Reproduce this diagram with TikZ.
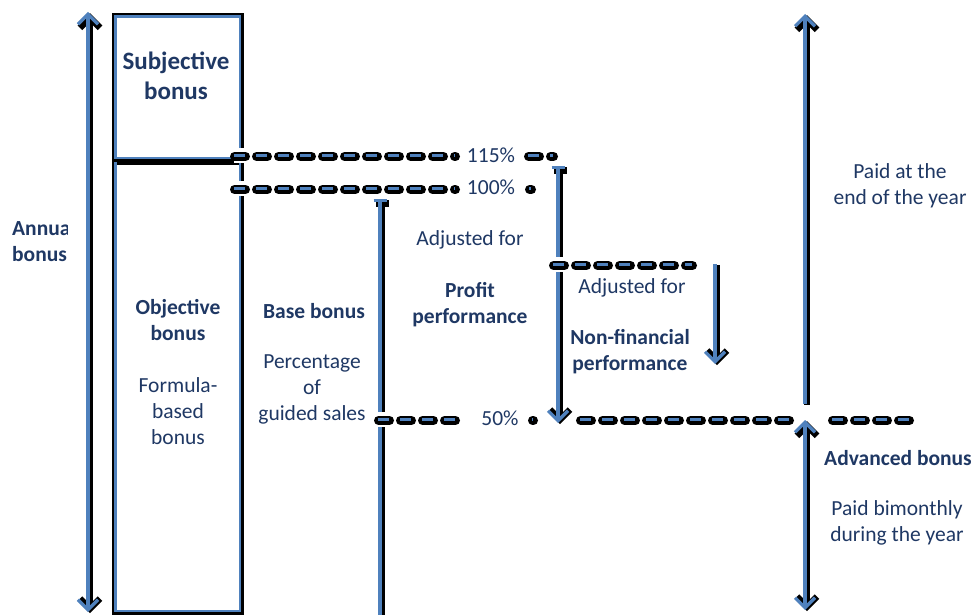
\documentclass[tikz,border=0pt]{standalone}
\usepackage{fontspec}
\setmainfont{Carlito}
\usetikzlibrary{arrows.meta}
\definecolor{inkblue}{RGB}{31,56,100}
\definecolor{lineblue}{RGB}{79,129,189}

% a blue stroke with a black shadow slightly to the lower right
\newcommand\twotone[2][]{%
  \begin{scope}[transform canvas={shift={(2,1.2)}}]
    \draw[shadeline,#1] #2;
  \end{scope}
  \draw[blueline,#1] #2;}
% a dashed blue stroke in rounded black dashes, cut out of what lies below
\newcommand\dashtwotone[1]{%
  \draw[white,line width=15pt] #1;
  \begin{scope}[transform canvas={shift={(0.5,1.5)}}]
    \draw[dashshade] #1;
  \end{scope}
  \draw[dashblue] #1;}

\tikzset{
  shadeline/.style={draw=black,line width=6.5pt},
  blueline/.style={draw=lineblue,line width=3.2pt},
  dashshade/.style={draw=black,line width=9pt,line cap=round,dash pattern=on 11pt off 11pt},
  dashblue/.style={draw=lineblue,line width=3pt,dash pattern=on 11pt off 11pt},
  bothheads/.style={arrows={Straight Barb[length=10pt,width=20pt]-Straight Barb[length=10pt,width=20pt]}},
  headup/.style={arrows={Straight Barb[length=10pt,width=20pt]-}},
  headdown/.style={arrows={-Straight Barb[length=10pt,width=20pt]}},
  teedown/.style={arrows={Bar[width=13pt]-Straight Barb[length=10pt,width=20pt]}},
  teeonly/.style={arrows={Bar[width=13pt]-}},
  lbl/.style={text=inkblue,font=\fontsize{21.5}{26}\selectfont,align=center,inner sep=0pt},
  blbl/.style={lbl,font=\bfseries\fontsize{21.5}{26}\selectfont},
  biglbl/.style={lbl,font=\bfseries\fontsize{25}{30}\selectfont},
  frame/.style={draw=black,line width=4.5pt,anchor=north west,inner sep=0pt,minimum width=127pt}
}

\begin{document}
\begin{tikzpicture}[x=1pt,y=-1pt]
\useasboundingbox[fill=white] (0,0) rectangle (976,615);

% end points of the arrows
\coordinate (annT) at (88,12);
\coordinate (annB) at (88,612);
\coordinate (endT) at (805,14);
\coordinate (endB) at (805,404);
\coordinate (advT) at (805,420);
\coordinate (advB) at (805,610);
\coordinate (baseT) at (380,199);
\coordinate (baseB) at (380,618);
\coordinate (profT) at (558,166);
\coordinate (profB) at (558,423);
\coordinate (nfT) at (715,264);
\coordinate (nfB) at (715,364);

% the two bonus boxes
\node[frame,minimum height=144pt] (subj) at (112,13) {};
\draw[blueline,line width=2.6pt] ([shift={(3.4,3.4)}]subj.north west) rectangle ([shift={(-3.4,-3.4)}]subj.south east);
\node[frame,minimum height=450pt] (obj) at (112,160) {};
\draw[blueline,line width=2.6pt] ([shift={(3.4,2)}]obj.north west) -- ([shift={(3.4,-3.4)}]obj.south west)
  -- ([shift={(-3.4,-3.4)}]obj.south east) -- ([shift={(-3.4,2)}]obj.north east);

% vertical arrows
\twotone[bothheads]{(annT) -- (annB)}
\twotone[headup]{(endT) -- (endB)}
\twotone[bothheads]{(advT) -- (advB)}
\twotone[teeonly]{(baseT) -- (baseB)}
\twotone[teedown]{(profT) -- (profB)}
\twotone[headdown]{(nfT) -- (nfB)}

% percentage levels
\coordinate (a1) at (234,155); \coordinate (a2) at (455,155);
\coordinate (a3) at (528,155); \coordinate (a4) at (553,155);
\coordinate (b1) at (234,188); \coordinate (b2) at (455,188);
\coordinate (b3) at (529,188); \coordinate (b4) at (531,188);
\coordinate (c1) at (553,264); \coordinate (c2) at (692,264);
\coordinate (d1) at (378,419); \coordinate (d2) at (466,419);
\coordinate (d3) at (532,419); \coordinate (d4) at (533,419);
\coordinate (d5) at (580,419); \coordinate (d6) at (796,419);
\coordinate (d7) at (832,419); \coordinate (d8) at (912,419);
\dashtwotone{(a1) -- (a2)}
\dashtwotone{(a3) -- (a4)}
\dashtwotone{(b1) -- (b2)}
\dashtwotone{(b3) -- (b4)}
\dashtwotone{(c1) -- (c2)}
\dashtwotone{(d1) -- (d2)}
\dashtwotone{(d3) -- (d4)}
\dashtwotone{(d5) -- (d6)}
\dashtwotone{(d7) -- (d8)}

% texts
\begin{scope}
  \clip (0,0) rectangle (67,615);
  \node[blbl,anchor=west,align=left] (annual) at (12,241) {Annual\\bonus};
\end{scope}
\node[biglbl] (subjtxt) at (176,76) {Subjective\\bonus};
\node[blbl] (objtxt) at (178,320) {Objective\\bonus};
\node[lbl] (formula) at (178,411) {Formula-\\based\\bonus};
\node[blbl] (basetxt) at (314,311) {Base bonus};
\node[lbl] (pct) at (312,389) {Percentage\\of\\guided sales};
\node[lbl] (p115) at (491,155) {115\%};
\node[lbl] (p100) at (491,187) {100\%};
\node[lbl] (p50) at (500,418) {50\%};
\node[lbl] (adj1) at (470,240) {Adjusted for};
\node[blbl] (profit) at (470,305) {Profit\\performance};
\node[lbl] (adj2) at (632,288) {Adjusted for};
\node[blbl] (nonfin) at (630,352) {Non-financial\\performance};
\node[lbl] (paidend) at (900,186) {Paid at the\\end of the year};
\node[blbl] (adv) at (898,458) {Advanced bonus};
\node[lbl] (paidbi) at (897,523) {Paid bimonthly\\during the year};
\end{tikzpicture}
\end{document}
